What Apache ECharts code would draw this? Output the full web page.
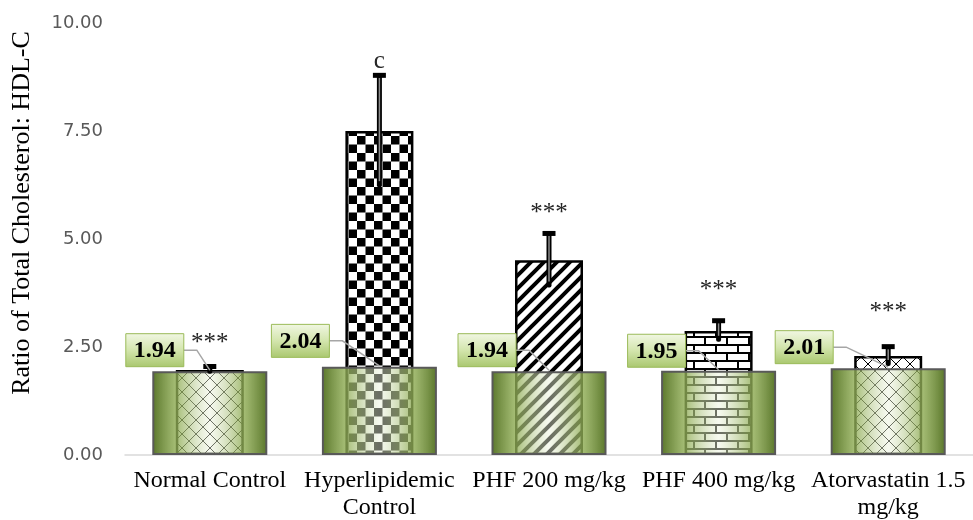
<!DOCTYPE html>
<html>
<head>
<meta charset="utf-8">
<script src="https://cdn.jsdelivr.net/npm/echarts@6/dist/echarts.min.js"></script>
<style>html,body{margin:0;padding:0;background:#fff}#c{width:973px;height:520px}</style>
</head>
<body>
<div id="c"></div>
<script>
// ---- data ----
const categories = ['Normal Control', 'Hyperlipidemic\nControl', 'PHF 200 mg/kg', 'PHF 400 mg/kg', 'Atorvastatin 1.5\nmg/kg'];
const tcHdlRatio = [1.97, 7.50, 4.51, 2.87, 2.29];
const tcHdlError = [0.09, 1.30, 0.63, 0.25, 0.23];
const hdlValues = [1.94, 2.04, 1.94, 1.95, 2.01];
const sigMarks = ['***', 'c', '***', '***', '***'];
const sigMarkY = [2.59, 9.10, 5.60, 3.82, 3.29];
const yTicks = [0, 2.5, 5, 7.5, 10];

// ---- layout (not data) ----
const labelDx = [-55, -79, -62, -62, -84];
const labelDy = [-21, -26, -21, -20, -21];

// ---- patterns ----
function tile(w, h, draw) {
  const c = document.createElement('canvas');
  c.width = w; c.height = h;
  const g = c.getContext('2d');
  g.fillStyle = '#fff'; g.fillRect(0, 0, w, h);
  draw(g, w, h);
  return c;
}
const lattice = tile(14, 14, (g, w, h) => {
  g.strokeStyle = '#000'; g.lineWidth = 1;
  g.beginPath();
  g.moveTo(0, 0); g.lineTo(w, h);
  g.moveTo(w, 0); g.lineTo(0, h);
  g.stroke();
});
const checker = tile(17, 17, (g, w, h) => {
  g.fillStyle = '#000';
  g.fillRect(0, 0, 8.5, 8.5);
  g.fillRect(8.5, 8.5, 8.5, 8.5);
});
const stripes = tile(13, 13, (g, w, h) => {
  g.strokeStyle = '#000'; g.lineWidth = 4;
  g.beginPath();
  g.moveTo(-3, h + 3); g.lineTo(w + 3, -3);
  g.moveTo(-3, 3); g.lineTo(3, -3);
  g.moveTo(w - 3, h + 3); g.lineTo(w + 3, h - 3);
  g.stroke();
});
const bricks = tile(22, 16, (g, w, h) => {
  g.fillStyle = '#000';
  g.fillRect(0, 0, w, 2);
  g.fillRect(0, 8, w, 2);
  g.fillRect(0, 0, 2, 8);
  g.fillRect(11, 8, 2, 8);
});
const patterns = [lattice, checker, stripes, bricks, lattice];

const serif = '"Liberation Serif", "Times New Roman", serif';

const chart = echarts.init(document.getElementById('c'), null, { renderer: 'canvas' });

const greenFill = new echarts.graphic.LinearGradient(0, 0, 1, 0, [
  { offset: 0, color: 'rgba(80,110,30,0.95)' },
  { offset: 0.2, color: 'rgba(140,170,80,0.8)' },
  { offset: 0.5, color: 'rgba(235,242,220,0.45)' },
  { offset: 0.8, color: 'rgba(140,170,80,0.8)' },
  { offset: 1, color: 'rgba(80,110,30,0.95)' }
]);

const boxFill = new echarts.graphic.LinearGradient(0, 0, 0, 1, [
  { offset: 0, color: '#f1f7e3' },
  { offset: 0.5, color: '#d3e5ad' },
  { offset: 1, color: '#a9c76e' }
]);

const xAxisBase = {
  type: 'category',
  data: categories,
  axisTick: { show: false }
};

chart.setOption({
  animation: false,
  grid: { left: 125, right: 0, top: 23, bottom: 65, outerBoundsMode: 'none', containLabel: false },
  graphic: [{
    type: 'text',
    x: 22, y: 213,
    rotation: Math.PI / 2,
    style: {
      text: 'Ratio of Total Cholesterol: HDL-C',
      font: '26px ' + serif,
      fill: '#000',
      align: 'center',
      verticalAlign: 'middle'
    }
  }],
  xAxis: [
    Object.assign({}, xAxisBase, {
      axisLine: { lineStyle: { color: '#d9d9d9', width: 1.5 } },
      axisLabel: {
        color: '#000', fontFamily: serif, fontSize: 24, lineHeight: 27,
        margin: 12, interval: 0
      }
    }),
    Object.assign({}, xAxisBase, {
      show: false
    })
  ],
  yAxis: {
    type: 'value',
    min: yTicks[0], max: yTicks[yTicks.length - 1], interval: yTicks[1] - yTicks[0],
    splitLine: { show: false },
    axisLine: { show: false },
    axisTick: { show: false },
    axisLabel: {
      color: '#595959', fontFamily: '"DejaVu Sans", sans-serif', fontSize: 18,
      margin: 22, formatter: v => v.toFixed(2)
    }
  },
  series: [
    {
      name: 'TC:HDL-C',
      type: 'bar',
      xAxisIndex: 0,
      barWidth: 68,
      data: tcHdlRatio.map((v, i) => ({
        value: v,
        itemStyle: { color: { image: patterns[i], repeat: 'repeat' } }
      })),
      itemStyle: { borderColor: '#000', borderWidth: 2.5 },
      z: 2
    },
    {
      name: 'HDL',
      type: 'bar',
      xAxisIndex: 1,
      barWidth: 115,
      data: hdlValues,
      itemStyle: { color: greenFill, borderColor: '#595959', borderWidth: 2 },
      z: 3
    },
    {
      name: 'error',
      type: 'custom',
      xAxisIndex: 0,
      z: 4,
      data: tcHdlRatio.map((v, i) => [i, v - tcHdlError[i], v + tcHdlError[i], sigMarkY[i]]),
      renderItem: (params, api) => {
        const i = api.value(0);
        const lo = api.coord([i, api.value(1)]);
        const hi = api.coord([i, api.value(2)]);
        const mk = api.coord([i, api.value(3)]);
        return {
          type: 'group',
          children: [
            { type: 'rect', shape: { x: lo[0] - 2.5, y: hi[1], width: 5, height: lo[1] - hi[1], r: 2 }, style: { fill: '#000' } },
            { type: 'line', shape: { x1: lo[0], y1: hi[1] + 3, x2: lo[0], y2: lo[1] - 6 }, style: { stroke: '#8c8c8c', lineWidth: 1.5 } },
            { type: 'rect', shape: { x: hi[0] - 6.5, y: hi[1] - 2, width: 13, height: 5 }, style: { fill: '#000' } },
            { type: 'text', style: { text: sigMarks[i], x: mk[0], y: mk[1], align: 'center', verticalAlign: 'middle', font: '25px ' + serif, fill: '#262626' } }
          ]
        };
      }
    },
    {
      name: 'hdlLabels',
      type: 'custom',
      xAxisIndex: 0,
      z: 5,
      data: hdlValues.map((v, i) => [i, v]),
      renderItem: (params, api) => {
        const i = api.value(0);
        const p = api.coord([i, api.value(1)]);
        const cx = p[0] + labelDx[i], cy = p[1] + labelDy[i];
        const w = 58, h = 33;
        return {
          type: 'group',
          children: [
            { type: 'polyline', shape: { points: [[cx + w / 2, cy], [cx + w / 2 + 13, cy], [p[0], p[1] - 1]] }, style: { stroke: '#a6a6a6', lineWidth: 1.5, fill: null } },
            { type: 'rect', shape: { x: cx - w / 2, y: cy - h / 2, width: w, height: h }, style: { fill: boxFill, stroke: '#9bbb59', lineWidth: 1 } },
            { type: 'text', style: { text: hdlValues[i].toFixed(2), x: cx, y: cy + 1, align: 'center', verticalAlign: 'middle', font: 'bold 24px ' + serif, fill: '#000' } }
          ]
        };
      }
    }
  ]
});
</script>
</body>
</html>
